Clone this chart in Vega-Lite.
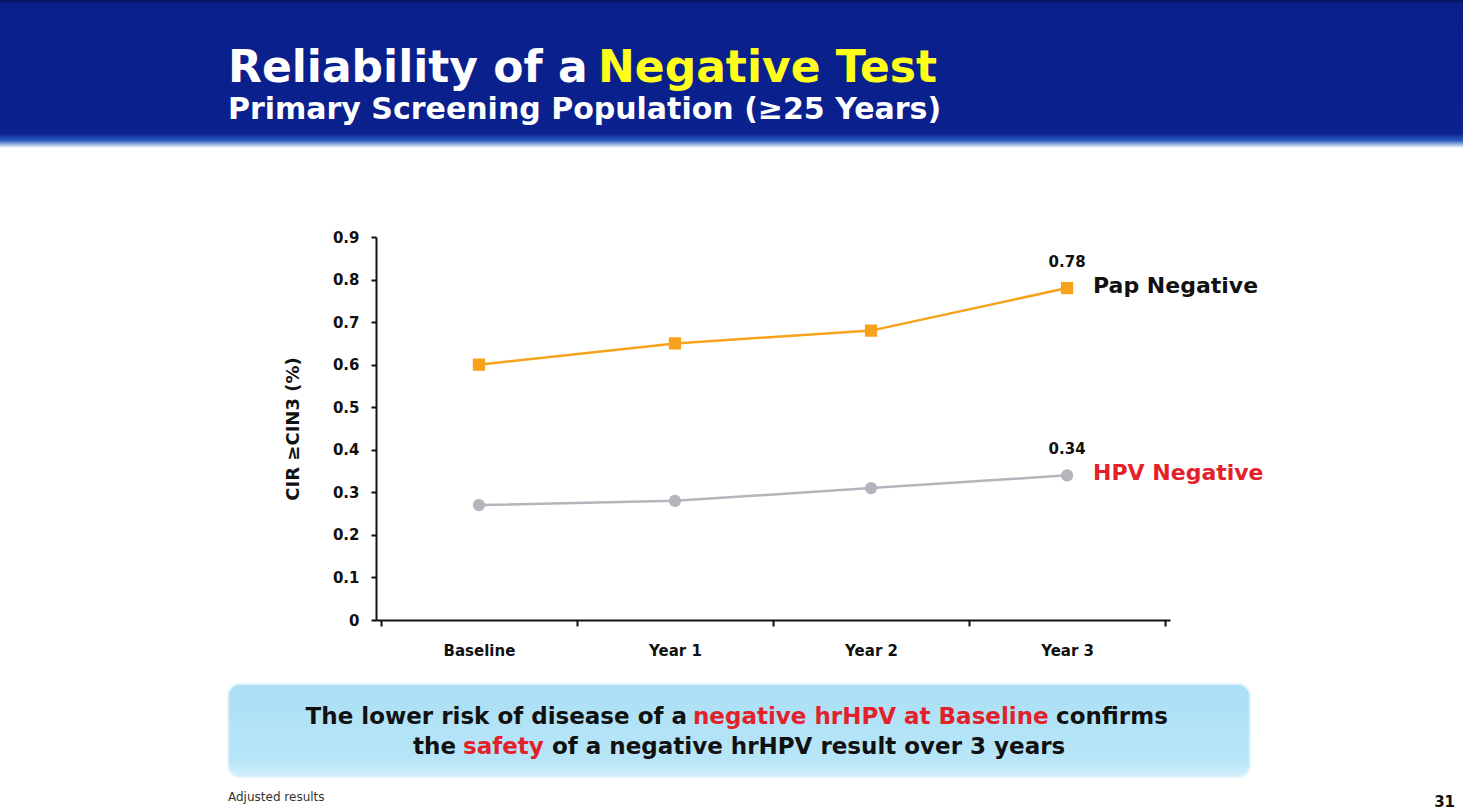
{
  "$schema": "https://vega.github.io/schema/vega-lite/v6.json",
  "width": 794,
  "height": 383,
  "autosize": {"type": "none"},
  "padding": {"left": 376, "top": 237, "right": 293, "bottom": 190},
  "background": "white",
  "config": {"view": {"stroke": null}, "font": "DejaVu Sans"},
  "datasets": {
    "cir": [
      {"test": "Pap Negative", "time": "Baseline", "value": 0.60},
      {"test": "Pap Negative", "time": "Year 1", "value": 0.65},
      {"test": "Pap Negative", "time": "Year 2", "value": 0.68},
      {"test": "Pap Negative", "time": "Year 3", "value": 0.78},
      {"test": "HPV Negative", "time": "Baseline", "value": 0.27},
      {"test": "HPV Negative", "time": "Year 1", "value": 0.28},
      {"test": "HPV Negative", "time": "Year 2", "value": 0.31},
      {"test": "HPV Negative", "time": "Year 3", "value": 0.34}
    ],
    "one": [{}]
  },
  "layer": [
    {
      "data": {"name": "one"},
      "mark": {
        "type": "rect",
        "x": -376, "x2": 1087, "y": -237, "y2": -89,
        "fill": {"gradient": "linear", "x1": 0, "y1": 0, "x2": 0, "y2": 1,
          "stops": [
            {"offset": 0, "color": "#071659"},
            {"offset": 0.03, "color": "#0a1f8a"},
            {"offset": 0.9, "color": "#0a218e"},
            {"offset": 0.95, "color": "#2c5cc0"},
            {"offset": 0.98, "color": "#a9c0e6"},
            {"offset": 1, "color": "#ffffff"}
          ]}
      },
      "encoding": {}
    },
    {
      "data": {"name": "one"},
      "mark": {"type": "text", "text": "Reliability of a", "x": -148, "y": -155, "align": "left", "baseline": "alphabetic", "fontSize": 44, "fontWeight": "bold", "color": "#ffffff"},
      "encoding": {}
    },
    {
      "data": {"name": "one"},
      "mark": {"type": "text", "text": "Negative Test", "x": 222, "y": -155, "align": "left", "baseline": "alphabetic", "fontSize": 44, "fontWeight": "bold", "color": "#ffff1a"},
      "encoding": {}
    },
    {
      "data": {"name": "one"},
      "mark": {"type": "text", "text": "Primary Screening Population (≥25 Years)", "x": -148, "y": -118, "align": "left", "baseline": "alphabetic", "fontSize": 30, "fontWeight": "bold", "color": "#ffffff"},
      "encoding": {}
    },
    {
      "data": {"name": "one"},
      "mark": {
        "type": "rect", "x": -148, "x2": 874, "y": 447, "y2": 540, "cornerRadius": 12,
        "stroke": "#e3f4fb", "strokeWidth": 2,
        "fill": {"gradient": "linear", "x1": 0, "y1": 0, "x2": 0, "y2": 1,
          "stops": [
            {"offset": 0, "color": "#abdff5"},
            {"offset": 0.85, "color": "#b8e6f8"},
            {"offset": 1, "color": "#d6f1fb"}
          ]}
      },
      "encoding": {}
    },
    {
      "data": {"name": "one"},
      "mark": {"type": "text", "text": "The lower risk of disease of a", "x": 311, "y": 480, "align": "right", "baseline": "middle", "fontSize": 23, "fontWeight": "bold", "color": "#111111"},
      "encoding": {}
    },
    {
      "data": {"name": "one"},
      "mark": {"type": "text", "text": "negative hrHPV at Baseline", "x": 317, "y": 480, "align": "left", "baseline": "middle", "fontSize": 23, "fontWeight": "bold", "color": "#e3212b"},
      "encoding": {}
    },
    {
      "data": {"name": "one"},
      "mark": {"type": "text", "text": "confirms", "x": 680, "y": 480, "align": "left", "baseline": "middle", "fontSize": 23, "fontWeight": "bold", "color": "#111111"},
      "encoding": {}
    },
    {
      "data": {"name": "one"},
      "mark": {"type": "text", "text": "the", "x": 80, "y": 510, "align": "right", "baseline": "middle", "fontSize": 23, "fontWeight": "bold", "color": "#111111"},
      "encoding": {}
    },
    {
      "data": {"name": "one"},
      "mark": {"type": "text", "text": "safety", "x": 87, "y": 510, "align": "left", "baseline": "middle", "fontSize": 23, "fontWeight": "bold", "color": "#e3212b"},
      "encoding": {}
    },
    {
      "data": {"name": "one"},
      "mark": {"type": "text", "text": "of a negative hrHPV result over 3 years", "x": 176, "y": 510, "align": "left", "baseline": "middle", "fontSize": 23, "fontWeight": "bold", "color": "#111111"},
      "encoding": {}
    },
    {
      "data": {"name": "one"},
      "mark": {"type": "text", "text": "Adjusted results", "x": -148, "y": 560, "align": "left", "baseline": "middle", "fontSize": 12, "color": "#333333"},
      "encoding": {}
    },
    {
      "data": {"name": "one"},
      "mark": {"type": "text", "text": "31", "x": 1079, "y": 565, "align": "right", "baseline": "middle", "fontSize": 15, "fontWeight": "bold", "color": "#111111"},
      "encoding": {}
    },
    {
      "data": {"name": "cir"},
      "layer": [
        {
          "mark": {"type": "line", "strokeWidth": 2.5},
          "encoding": {
            "color": {"field": "test", "type": "nominal", "scale": {"domain": ["Pap Negative", "HPV Negative"], "range": ["#f7a21b", "#b4b4bc"]}, "legend": null}
          }
        },
        {
          "mark": {"type": "point", "filled": true, "size": 150, "opacity": 1},
          "encoding": {
            "color": {"field": "test", "type": "nominal", "scale": {"domain": ["Pap Negative", "HPV Negative"], "range": ["#f7a21b", "#b4b4bc"]}, "legend": null},
            "shape": {"field": "test", "type": "nominal", "scale": {"domain": ["Pap Negative", "HPV Negative"], "range": ["square", "circle"]}, "legend": null}
          }
        },
        {
          "transform": [{"filter": "datum.time == 'Year 3'"}],
          "mark": {"type": "text", "dy": -21, "baseline": "alphabetic", "align": "center", "fontSize": 15, "fontWeight": "bold", "color": "#111111"},
          "encoding": {
            "text": {"field": "value", "type": "quantitative", "format": ".2f"}
          }
        },
        {
          "transform": [{"filter": "datum.time == 'Year 3'"}],
          "mark": {"type": "text", "dx": 26, "dy": -2, "baseline": "middle", "align": "left", "fontSize": 22, "fontWeight": "bold"},
          "encoding": {
            "text": {"field": "test", "type": "nominal"},
            "color": {"condition": {"test": "datum.test == 'HPV Negative'", "value": "#e3212b"}, "value": "#111111"}
          }
        }
      ],
      "encoding": {
        "x": {
          "field": "time", "type": "nominal", "bandPosition": 0.5,
          "scale": {"type": "band", "domain": ["Baseline", "Year 1", "Year 2", "Year 3"], "paddingInner": 0, "paddingOuter": 0.025},
          "axis": {"title": null, "labelAngle": 0, "tickBand": "extent", "domainColor": "#111111", "domainWidth": 2, "tickColor": "#111111", "tickWidth": 2, "tickSize": 6, "labelFontSize": 15, "labelFontWeight": "bold", "labelColor": "#111111", "labelPadding": 17, "grid": false}
        },
        "y": {
          "field": "value", "type": "quantitative",
          "scale": {"domain": [0, 0.9], "nice": false},
          "axis": {"title": "CIR ≥CIN3 (%)", "values": [0, 0.1, 0.2, 0.3, 0.4, 0.5, 0.6, 0.7, 0.8, 0.9], "format": ".1~f", "grid": false, "domainColor": "#111111", "domainWidth": 2, "tickColor": "#111111", "tickWidth": 2, "tickSize": 5, "labelFontSize": 15, "labelFontWeight": "bold", "labelColor": "#111111", "labelPadding": 12, "titleFontSize": 18, "titleFontWeight": "bold", "titleColor": "#111111", "titlePadding": 30}
        }
      }
    }
  ]
}
